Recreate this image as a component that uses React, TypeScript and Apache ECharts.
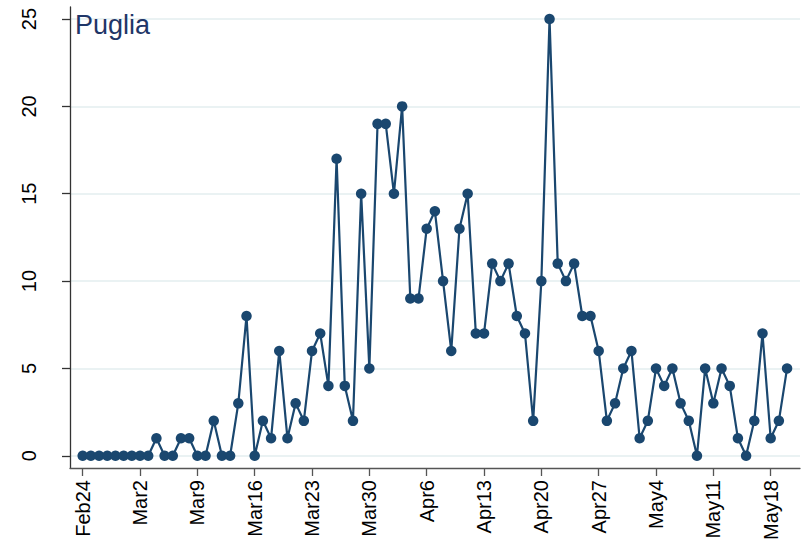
import React, { useEffect, useRef } from "react";
import * as echarts from "echarts";

const dayLabels: string[] = (() => {
  const out: string[] = [];
  const months = [
    ["Feb", 24, 29],
    ["Mar", 1, 31],
    ["Apr", 1, 30],
    ["May", 1, 20],
  ] as const;
  for (const [m, a, b] of months) for (let d = a; d <= b; d++) out.push(m + d);
  return out;
})();

const tickIndices = [0, 7, 14, 21, 28, 35, 42, 49, 56, 63, 70, 77, 84];
const yTicks = [0, 5, 10, 15, 20, 25];

const deaths = [
  0, 0, 0, 0, 0, 0, 0, 0, 0, 1, 0, 0, 1, 1, 0, 0, 2, 0, 0, 3, 8, 0, 2, 1, 6, 1, 3, 2, 6, 7, 4, 17, 4, 2,
  15, 5, 19, 19, 15, 20, 9, 9, 13, 14, 10, 6, 13, 15, 7, 7, 11, 10, 11, 8, 7, 2, 10, 25, 11, 10, 11, 8,
  8, 6, 2, 3, 5, 6, 1, 2, 5, 4, 5, 3, 2, 0, 5, 3, 5, 4, 1, 0, 2, 7, 1, 2, 5,
];

const title = "Puglia";
const NAVY = "#1a476f";
const FONT = "'Liberation Sans', Arial, Helvetica, sans-serif";

export default function App() {
  const ref = useRef<HTMLDivElement>(null);
  useEffect(() => {
    if (!ref.current) return;
    const chart = echarts.init(ref.current, undefined, { renderer: "svg" });
    chart.setOption({
      animation: false,
      backgroundColor: "#ffffff",
      title: {
        text: title,
        left: 70,
        top: 6,
        textStyle: { fontFamily: FONT, fontSize: 27, fontWeight: "normal", color: "#1f3668" },
      },
      grid: { left: 70, right: 8, top: 7, bottom: 78 },
      xAxis: {
        type: "value",
        min: -1.55,
        max: 87.58,
        axisLine: { show: true, onZero: false, lineStyle: { color: "#555", width: 1.3 } },
        axisTick: { show: true, length: 8, customValues: tickIndices, lineStyle: { color: "#555", width: 1.3 } },
        axisLabel: {
          customValues: tickIndices,
          rotate: 90,
          margin: 12,
          fontFamily: FONT,
          fontSize: 20,
          color: "#000",
          formatter: (v: number) => dayLabels[Math.round(v)] ?? "",
        },
        splitLine: { show: false },
      },
      yAxis: {
        type: "value",
        min: -0.7,
        max: 25.69,
        axisLine: { show: true, onZero: false, lineStyle: { color: "#333", width: 1.3 } },
        axisTick: { show: true, length: 8, customValues: yTicks, lineStyle: { color: "#333", width: 1.3 } },
        axisLabel: {
          customValues: yTicks,
          rotate: 90,
          margin: 31,
          fontFamily: FONT,
          fontSize: 20,
          color: "#000",
        },
        splitLine: { show: true, lineStyle: { color: "#eaf2f3", width: 2 } },
      },
      series: [
        {
          type: "line",
          data: deaths.map((v, i) => [i, v]),
          symbol: "circle",
          symbolSize: 10.5,
          showSymbol: true,
          lineStyle: { color: NAVY, width: 2.2 },
          itemStyle: { color: NAVY },
          z: 3,
        },
      ],
    });
    return () => chart.dispose();
  }, []);
  return (
    <div
      ref={ref}
      style={{ position: "absolute", left: 0, top: 0, width: 808, height: 546, background: "#fff" }}
    />
  );
}
